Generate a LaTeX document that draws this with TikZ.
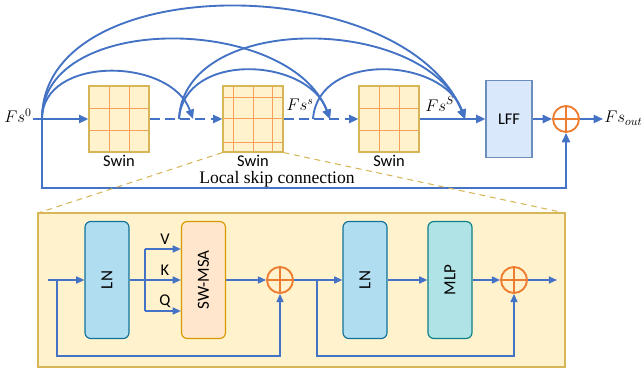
\documentclass[tikz,border=0pt]{standalone}
\usepackage{fontspec}
\usepackage{graphicx}
\newfontfamily\calfont{Carlito}
\newfontfamily\serfont{Liberation Serif}
\usetikzlibrary{arrows.meta}
\definecolor{lineblue}{HTML}{4472C4}
\definecolor{sumorange}{HTML}{ED7D31}
\definecolor{gridorange}{HTML}{F5A05A}
\definecolor{swinfill}{HTML}{FFF2CC}
\definecolor{swinedge}{HTML}{D6B656}
\definecolor{lfffill}{HTML}{DAE8FC}
\definecolor{lffedge}{HTML}{6C8EBF}
\definecolor{lnfill}{HTML}{B1DDF0}
\definecolor{lnedge}{HTML}{10739E}
\definecolor{msafill}{HTML}{FFE6CC}
\definecolor{msaedge}{HTML}{D79B00}
\definecolor{mlpfill}{HTML}{B0E3E6}
\definecolor{mlpedge}{HTML}{0E8088}
\newcommand{\pu}{0.03cm}
\tikzset{
	bigline/.style={draw=lineblue,line width=1.6pt},
	flow/.style={bigline,-{Triangle[length=8pt,width=7pt]}},
	dashflow/.style={flow,dash pattern=on 8.5pt off 4.5pt},
	smallline/.style={draw=lineblue,line width=1.3pt},
	sflow/.style={smallline,-{Triangle[length=7pt,width=6pt]}},
	swinbox/.style={rectangle,draw=swinedge,fill=swinfill,line width=1pt,minimum width=60*\pu,minimum height=66*\pu,inner sep=0pt},
	gridline/.style={draw=gridorange,line width=0.8pt},
	block/.style={rectangle,rounded corners=5pt,line width=1pt,minimum width=44*\pu,minimum height=117*\pu,inner sep=0pt,font=\calfont\fontsize{14.5}{16}\selectfont},
	sumnode/.style={circle,draw=sumorange,line width=1.6pt,minimum size=26*\pu,inner sep=0pt,
		path picture={\draw[sumorange,line width=1.6pt] (path picture bounding box.north)--(path picture bounding box.south) (path picture bounding box.west)--(path picture bounding box.east);}},
	sanslabel/.style={font=\calfont\fontsize{14}{16}\selectfont,inner sep=0pt},
	mathlabel/.style={font=\fontsize{14}{16}\selectfont,inner sep=1pt},
	zoomline/.style={draw=swinedge,line width=0.9pt,dash pattern=on 5pt off 4pt},
}
\begin{document}
\begin{tikzpicture}[x=0.03cm,y=-0.03cm]
		\useasboundingbox (0,0) rectangle (643,372);
		\coordinate (p0) at (42,119);
		\coordinate (p1) at (179,119);
		\coordinate (q1) at (193,119);
		\coordinate (p2) at (313,119);
		\coordinate (q2) at (330,119);
		\coordinate (q3) at (465,119);
		\coordinate (skipb) at (42,188);
		\node [swinbox] (swin1) at (119,119) {};
		\node [swinbox] (swin2) at (253,119) {};
		\node [swinbox] (swin3) at (389,119) {};
		\foreach \gx in {109,129,379,399} \draw [gridline] (\gx,86)--(\gx,152);
		\foreach \gy in {108,130} {
			\draw [gridline] (89,\gy)--(149,\gy);
			\draw [gridline] (359,\gy)--(419,\gy);
		}
		\foreach \gx in {233,253,272} \draw [gridline] (\gx,86)--(\gx,152);
		\foreach \gy in {97,118,142} \draw [gridline] (223,\gy)--(283,\gy);
		\draw [swinedge,line width=1pt] (89,86) rectangle (149,152) (223,86) rectangle (283,152) (359,86) rectangle (419,152);
		\node [rectangle,draw=lffedge,fill=lfffill,line width=1pt,minimum width=46*\pu,minimum height=77*\pu,sanslabel] (lff) at (509,119) {LFF};
		\node [sumnode] (sum) at (566,119) {};
		\node [mathlabel,anchor=east] (fs0) at (33,116) {\(Fs^{0}\)};
		\node [mathlabel,anchor=base west] (fsout) at (603,123) {\(Fs_{out}\)};
		\node [mathlabel] (fss) at (300,105) {\(Fs^{s}\)};
		\node [mathlabel] (fsS) at (440,104) {\(Fs^{S}\)};
		\node [sanslabel] (swinlbl1) at (119,161) {Swin};
		\node [sanslabel] (swinlbl2) at (253,161) {Swin};
		\node [sanslabel] (swinlbl3) at (389,161) {Swin};
		\node [font=\serfont\fontsize{15}{17}\selectfont,anchor=base,inner sep=0pt] (skiplbl) at (277,184) {Local skip connection};
		\draw [flow] (fs0.east |- p0)--(swin1.west);
		\draw [dashflow] (swin1)--(swin2);
		\draw [dashflow] (swin2)--(swin3);
		\draw [flow] (swin3)--(lff);
		\draw [flow] (lff)--(sum);
		\draw [flow] (sum)--(sum -| fsout.west);
		\draw [flow] (p0)--(skipb)-|(sum.south);
		\draw [flow] (p0) .. controls +(0,-64) and +(-22,-62) .. (q1);
		\draw [flow] (p0) .. controls +(0,-108) and +(-40,-104) .. (q2);
		\draw [flow] (p0) .. controls +(0,-152) and +(-60,-148) .. (q3);
		\draw [flow] (p1) .. controls +(5,-68) and +(-22,-62) .. (q2);
		\draw [flow] (p1) .. controls +(5,-108) and +(-40,-104) .. (q3);
		\draw [flow] (p2) .. controls +(5,-68) and +(-22,-62) .. (q3);
		\coordinate (pnw) at (38,213);
		\coordinate (pne) at (565,213);
		\draw [zoomline] (swin2.south west)--(pnw);
		\draw [zoomline] (swin2.south east)--(pne);
		\draw [draw=swinedge,fill=swinfill,line width=1pt] (pnw) rectangle (565,367);
		\node [block,fill=lnfill,draw=lnedge] (ln1) at (107,280) {\rotatebox{90}{LN}};
		\node [block,fill=msafill,draw=msaedge] (msa) at (203.5,280) {\rotatebox{90}{SW-MSA}};
		\node [block,fill=lnfill,draw=lnedge] (ln2) at (365,280) {\rotatebox{90}{LN}};
		\node [block,fill=mlpfill,draw=mlpedge] (mlp) at (450,280) {\rotatebox{90}{MLP}};
		\node [sumnode] (sum1) at (280,280) {};
		\node [sumnode] (sum2) at (514,280) {};
		\coordinate (lin) at (48,280);
		\coordinate (s1) at (57,280);
		\coordinate (s1b) at (57,356);
		\coordinate (vtop) at (145,249);
		\coordinate (qbot) at (145,311);
		\coordinate (s2) at (317,280);
		\coordinate (s2b) at (317,356);
		\coordinate (lout) at (557,280);
		\draw [sflow] (lin)--(ln1);
		\draw [sflow] (s1)--(s1b)-|(sum1.south);
		\draw [sflow] (ln1)--(msa);
		\draw [smallline] (vtop)--(qbot);
		\draw [sflow] (vtop)--(vtop -| msa.west);
		\draw [sflow] (qbot)--(qbot -| msa.west);
		\draw [sflow] (msa)--(sum1);
		\draw [sflow] (sum1)--(ln2);
		\draw [sflow] (s2)--(s2b)-|(sum2.south);
		\draw [sflow] (ln2)--(mlp);
		\draw [sflow] (mlp)--(sum2);
		\draw [sflow] (sum2)--(lout);
		\node [sanslabel] (vlbl) at (165,239) {V};
		\node [sanslabel] (klbl) at (165,270) {K};
		\node [sanslabel] (qlbl) at (165,301) {Q};
		\end{tikzpicture}
\end{document}
